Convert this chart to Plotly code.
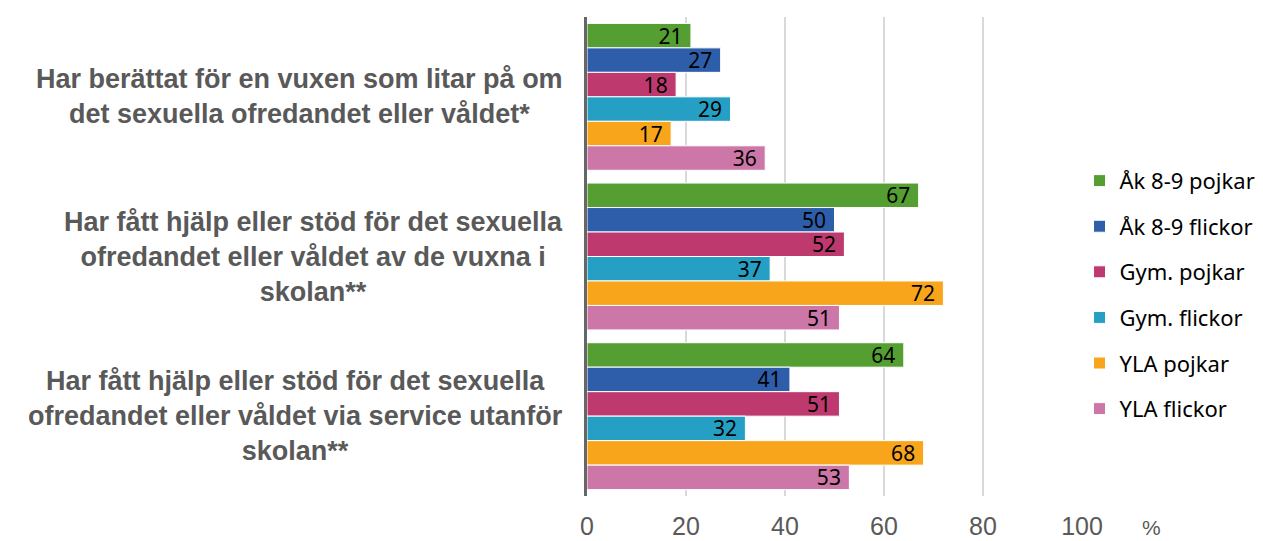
import plotly.graph_objects as go

# categories (top to bottom)
categories = [
    "Har berättat för en vuxen som litar på om<br>det sexuella ofredandet eller våldet*",
    "Har fått hjälp eller stöd för det sexuella<br>ofredandet eller våldet av de vuxna i<br>skolan**",
    "Har fått hjälp eller stöd för det sexuella<br>ofredandet eller våldet via service utanför<br>skolan**",
]
cat_ids = ["c1", "c2", "c3"]

series_names = ["Åk 8-9 pojkar", "Åk 8-9 flickor", "Gym. pojkar",
                "Gym. flickor", "YLA pojkar", "YLA flickor"]
ak_pojkar = [21, 67, 64]
ak_flickor = [27, 50, 41]
gym_pojkar = [18, 52, 51]
gym_flickor = [29, 37, 32]
yla_pojkar = [17, 72, 68]
yla_flickor = [36, 51, 53]
series_values = [ak_pojkar, ak_flickor, gym_pojkar, gym_flickor, yla_pojkar, yla_flickor]
colors = ["#559F32", "#2E5EAA", "#BE3A6E", "#25A0C4", "#F8A51C", "#CD76A8"]

x_ticks = [0, 20, 40, 60, 80, 100]

fig = go.Figure()
for name, vals, col in zip(series_names, series_values, colors):
    fig.add_trace(go.Bar(
        y=cat_ids, x=vals, name=name, orientation="h",
        marker=dict(color=col, line=dict(color="white", width=1)),
        text=[str(v) + " " for v in vals], textposition="inside",
        insidetextanchor="end", constraintext="none", textangle=0,
        textfont=dict(family="Noto Sans", size=21, color="black"),
        legendgroup=name,
    ))

# category labels, centred text
for cid, lab in zip(cat_ids, categories):
    fig.add_annotation(
        x=0, xref="paper", y=cid, yref="y", xanchor="right", xshift=-22,
        text=lab, showarrow=False, align="center",
        font=dict(family="Liberation Sans", size=27, color="#595959", weight="bold"),
    )

fig.add_annotation(
    x=1, xref="paper", y=0, yref="paper", xanchor="left", yanchor="top",
    xshift=58, yshift=-18, text="%", showarrow=False,
    font=dict(family="Liberation Sans", size=21, color="#595959"),
)

# page body has an 8px margin, so the figure is drawn 8px smaller
fig.update_layout(
    width=1255, height=533,
    paper_bgcolor="white", plot_bgcolor="white",
    margin=dict(l=579, r=181, t=9, b=45, autoexpand=False),
    barmode="group", bargap=0.08, bargroupgap=0,
    showlegend=True,
    legend=dict(
        x=0.995, xanchor="left", y=0.42, yanchor="middle",
        traceorder="grouped", tracegroupgap=14,
        font=dict(family="Noto Sans", size=22, color="black"),
    ),
    xaxis=dict(
        range=[0, 100], tickvals=x_ticks, showgrid=True,
        gridcolor="#D9D9D9", gridwidth=2, zeroline=False,
        tickfont=dict(family="Liberation Sans", size=25, color="#595959"),
        ticklabelstandoff=13,
    ),
    yaxis=dict(
        autorange="reversed", showticklabels=False, showgrid=False,
        showline=True, linecolor="#666666", linewidth=3,
    ),
)

fig.write_html("out.html")
